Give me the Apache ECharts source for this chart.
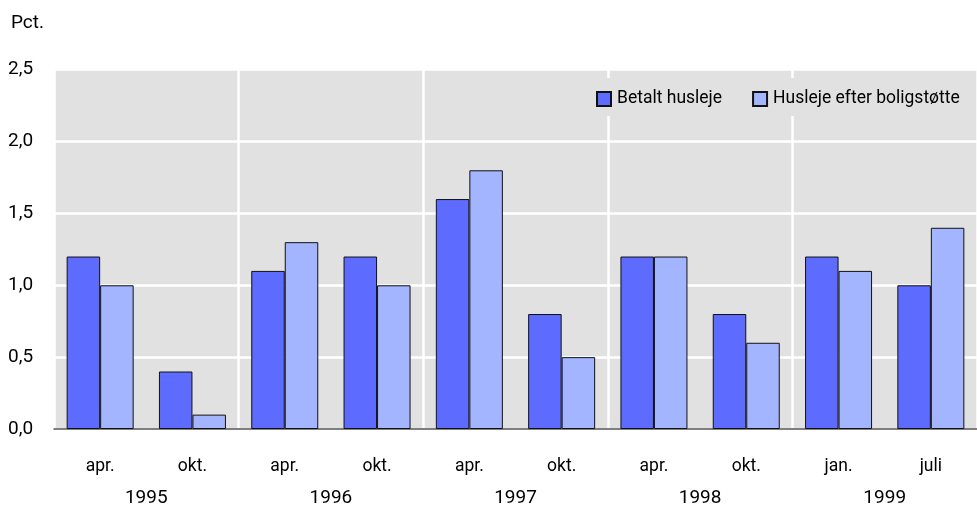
<!DOCTYPE html>
<html>
<head>
<meta charset="utf-8">
<style>
html,body{margin:0;padding:0;background:#fff;}
#chart{width:977px;height:508px;}
</style>
<script src="https://cdn.jsdelivr.net/npm/echarts@6/dist/echarts.min.js"></script>
</head>
<body>
<div id="chart"></div>
<script>
const months = ['apr.', 'okt.', 'apr.', 'okt.', 'apr.', 'okt.', 'apr.', 'okt.', 'jan.', 'juli'];
const years = ['1995', '1996', '1997', '1998', '1999'];
const betaltHusleje = [1.2, 0.4, 1.1, 1.2, 1.6, 0.8, 1.2, 0.8, 1.2, 1.0];
const huslejeEfterBoligstotte = [1.0, 0.1, 1.3, 1.0, 1.8, 0.5, 1.2, 0.6, 1.1, 1.4];
const seriesNames = ['Betalt husleje', 'Husleje efter boligstøtte'];
const yTicks = [0, 0.5, 1.0, 1.5, 2.0, 2.5];

const FONT = 'Roboto, "Liberation Sans", sans-serif';
const chart = echarts.init(document.getElementById('chart'), null, {renderer: 'canvas'});
chart.setOption({
  animation: false,
  textStyle: {fontFamily: FONT, color: '#000'},
  title: {
    text: 'Pct.', left: 6, top: 9,
    textStyle: {fontFamily: FONT, fontSize: 19, fontWeight: 'normal', color: '#000'}
  },
  legend: {
    data: seriesNames,
    left: 580, top: 78, width: 390,
    padding: [12, 16, 8, 16],
    backgroundColor: '#e1e1e1',
    itemWidth: 14, itemHeight: 14, itemGap: 30,
    icon: 'rect',
    textStyle: {fontFamily: FONT, fontSize: 17.5, color: '#000', padding: [0, 0, 0, 1]}
  },
  grid: {
    left: 54, right: -11, top: 69.7, bottom: 75.3,
    show: true, backgroundColor: '#e1e1e1', borderWidth: 0
  },
  xAxis: [{
    type: 'category', data: months, position: 'bottom',
    axisLine: {show: true, lineStyle: {color: '#555', width: 1.5}},
    axisTick: {show: false},
    splitLine: {show: false},
    axisLabel: {fontFamily: FONT, fontSize: 17.5, color: '#000', margin: 29}
  }, {
    type: 'category', data: years, position: 'bottom',
    axisLine: {show: false}, axisTick: {show: false},
    splitLine: {show: true, lineStyle: {color: '#fff', width: 2.5}},
    axisLabel: {fontFamily: FONT, fontSize: 19, color: '#000', margin: 60}
  }],
  yAxis: {
    type: 'value', min: 0, max: 2.5, interval: 0.5,
    axisLine: {show: false}, axisTick: {show: false},
    splitLine: {show: true, lineStyle: {color: '#fff', width: 2.5}},
    axisLabel: {
      fontFamily: FONT, fontSize: 19, color: '#000', align: 'left', margin: 46,
      formatter: v => yTicks.includes(v) ? v.toFixed(1).replace('.', ',') : ''
    }
  },
  series: [{
    name: seriesNames[0], type: 'bar', data: betaltHusleje, xAxisIndex: 0,
    barWidth: 33.5, barGap: '0%',
    itemStyle: {color: '#5d6bff', borderColor: '#111', borderWidth: 1}
  }, {
    name: seriesNames[1], type: 'bar', data: huslejeEfterBoligstotte, xAxisIndex: 0,
    barWidth: 33.5, barGap: '0%',
    itemStyle: {color: '#a3b5ff', borderColor: '#111', borderWidth: 1}
  }]
});
</script>
</body>
</html>
